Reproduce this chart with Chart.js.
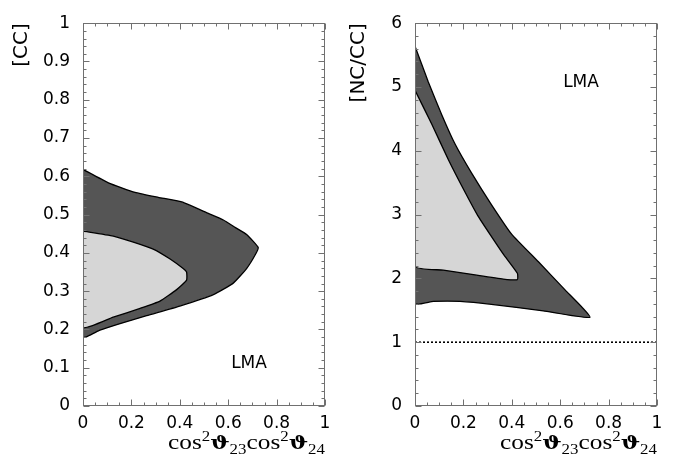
<!DOCTYPE html>
<html>
<head>
<meta charset="utf-8">
<script src="https://cdn.jsdelivr.net/npm/chart.js@4.4.1/dist/chart.umd.min.js"></script>
<style>
  body { margin: 0; background: #fff; }
  #wrap { position: relative; width: 675px; height: 462px; }
  #leftBox { position: absolute; left: 0; top: 0; }
  #rightBox { position: absolute; left: 340px; top: 0; }
</style>
</head>
<body>
<div id="wrap">
  <div id="leftBox"><canvas id="ccChart" width="340" height="462"></canvas></div>
  <div id="rightBox"><canvas id="ncChart" width="335" height="462"></canvas></div>
</div>
<script>
// ==================== DATA ====================
// left panel: [CC] vs cos^2(th23) cos^2(th24)
const ccOuterX = [0, 0.105, 0.215, 0.311, 0.408, 0.518, 0.580, 0.630, 0.676, 0.724, 0.710, 0.676, 0.621, 0.539, 0.400, 0.263, 0.153, 0.070, 0, 0];
const ccOuterY = [0.618, 0.583, 0.558, 0.545, 0.533, 0.503, 0.486, 0.466, 0.448, 0.414, 0.393, 0.359, 0.321, 0.291, 0.261, 0.236, 0.215, 0.198, 0.180, 0.618];
const ccInnerX = [0, 0.125, 0.208, 0.290, 0.360, 0.414, 0.428, 0.428, 0.387, 0.318, 0.236, 0.125, 0, 0];
const ccInnerY = [0.457, 0.444, 0.428, 0.410, 0.384, 0.359, 0.350, 0.329, 0.304, 0.274, 0.255, 0.232, 0.206, 0.457];

// right panel: [NC/CC]
const ncOuterX = [0, 0.055, 0.110, 0.165, 0.234, 0.317, 0.400, 0.510, 0.620, 0.723, 0.530, 0.324, 0.186, 0.076, 0, 0];
const ncOuterY = [5.64, 5.08, 4.57, 4.11, 3.65, 3.15, 2.69, 2.26, 1.82, 1.39, 1.49, 1.59, 1.64, 1.64, 1.61, 5.64];
const ncInnerX = [0, 0.069, 0.138, 0.207, 0.260, 0.310, 0.365, 0.423, 0.423, 0.365, 0.255, 0.117, 0, 0];
const ncInnerY = [4.95, 4.42, 3.86, 3.35, 2.98, 2.69, 2.38, 2.08, 1.98, 1.99, 2.05, 2.13, 2.19, 4.95];

// reference line NC/CC = 1
const refLineX = [0, 1];
const refLineY = [1, 1];

// label "LMA" position (data coords)
const ccLabelPos = [0.686, 0.112];
const ncLabelPos = [0.686, 5.07];

const xTicks = [0, 0.2, 0.4, 0.6, 0.8, 1];

// ==================== HELPERS ====================
const DARK = '#555555';
const LIGHT = '#d6d6d6';

function toPoints(xs, ys) {
    return xs.map((x, i) => ({ x: x, y: ys[i] }));
}

function region(xs, ys, color, order) {
    return {
        data: toPoints(xs, ys),
        showLine: true,
        fill: 'shape',
        backgroundColor: color,
        borderColor: '#000',
        borderWidth: 1.3,
        pointRadius: 0,
        tension: 0.15,
        order: order
    };
}

function fmt(v) {
    return String(Number(v.toFixed(2)));
}

function drawXTitle(ctx, right, baseline, width) {
    const main = '21px "Liberation Serif", serif';
    const small = '14px "Liberation Serif", serif';
    const theta = 'bold 19px "DejaVu Serif", serif';
    const parts = [
        ['cos', main, 0], ['2', small, -8], ['\u03D1', theta, 0], ['23', small, 5],
        ['cos', main, 0], ['2', small, -8], ['\u03D1', theta, 0], ['24', small, 5]
    ];
    let total = 0;
    const widths = parts.map(p => {
        ctx.font = p[1];
        const w = ctx.measureText(p[0]).width;
        total += w;
        return w;
    });
    const sx = width / total;
    ctx.save();
    ctx.translate(right - width, baseline);
    ctx.scale(sx, 1);
    ctx.fillStyle = '#000';
    ctx.textBaseline = 'alphabetic';
    ctx.textAlign = 'left';
    let cx = 0;
    parts.forEach((p, i) => {
        ctx.font = p[1];
        ctx.fillText(p[0], cx, p[2]);
        cx += widths[i];
    });
    ctx.restore();
}

// frame, inward ticks, labels
const framePlugin = {
    id: 'frame',
    afterDraw(chart, args, opts) {
        const { ctx, chartArea: a, scales: { x, y } } = chart;
        const L = Math.round(a.left) + 0.5, R = Math.round(a.right) - 0.5;
        const T = Math.round(a.top) + 0.5, B = Math.round(a.bottom) - 0.5;
        ctx.save();
        ctx.strokeStyle = '#707070';
        ctx.lineWidth = 1;
        ctx.strokeRect(L, T, R - L, B - T);

        ctx.beginPath();
        // x ticks
        const nx = Math.round((x.max - x.min) / opts.xMinor);
        for (let i = 0; i <= nx; i++) {
            const px = Math.round(x.getPixelForValue(x.min + i * opts.xMinor)) + 0.5;
            const len = i % opts.xMajorEvery === 0 ? 6 : 3;
            ctx.moveTo(px, B); ctx.lineTo(px, B - len);
            ctx.moveTo(px, T); ctx.lineTo(px, T + len);
        }
        // y ticks
        const ny = Math.round((y.max - y.min) / opts.yMinor);
        for (let i = 0; i <= ny; i++) {
            const py = Math.round(y.getPixelForValue(y.min + i * opts.yMinor)) + 0.5;
            const len = i % opts.yMajorEvery === 0 ? 6 : 3;
            ctx.moveTo(L, py); ctx.lineTo(L + len, py);
            ctx.moveTo(R, py); ctx.lineTo(R - len, py);
        }
        ctx.stroke();

        // LMA label
        ctx.fillStyle = '#000';
        ctx.font = '17px "DejaVu Sans", sans-serif';
        ctx.textAlign = 'center';
        ctx.textBaseline = 'middle';
        ctx.fillText('LMA', x.getPixelForValue(opts.label[0]), y.getPixelForValue(opts.label[1]));

        drawXTitle(ctx, a.right, 449, 157);
        ctx.restore();
    }
};

function makeOptions(yMax, yStep, yTitle, yTitlePad, yWidth, rightPad, frameOpts) {
    return {
        responsive: false,
        animation: false,
        events: [],
        layout: { padding: { left: 0, right: rightPad, top: 13, bottom: 0 } },
        plugins: {
            legend: { display: false },
            tooltip: { enabled: false },
            frame: frameOpts
        },
        scales: {
            x: {
                type: 'linear',
                min: 0, max: 1,
                afterBuildTicks: s => { s.ticks = xTicks.map(v => ({ value: v })); },
                afterFit: s => { s.height = 56; },
                grid: { display: false, drawTicks: false },
                border: { display: false },
                ticks: {
                    padding: 7,
                    color: '#000',
                    maxRotation: 0,
                    callback: v => fmt(v),
                    font: { family: '"DejaVu Sans", sans-serif', size: 17 }
                }
            },
            y: {
                type: 'linear',
                min: 0, max: yMax,
                afterFit: s => { s.width = yWidth; },
                grid: { display: false, drawTicks: false },
                border: { display: false },
                ticks: {
                    stepSize: yStep,
                    padding: 13,
                    color: '#000',
                    callback: v => fmt(v),
                    font: { family: '"DejaVu Sans", sans-serif', size: 17 }
                },
                title: {
                    display: true,
                    text: yTitle,
                    align: 'end',
                    color: '#000',
                    padding: { top: yTitlePad, bottom: 0 },
                    font: { family: '"DejaVu Sans", sans-serif', size: 20 }
                }
            }
        }
    };
}

// ==================== CHARTS ====================
new Chart(document.getElementById('ccChart'), {
    type: 'scatter',
    data: {
        datasets: [
            region(ccOuterX, ccOuterY, DARK, 2),
            region(ccInnerX, ccInnerY, LIGHT, 1)
        ]
    },
    options: makeOptions(1, 0.1, '[CC]', 10, 83, 15,
        { xMinor: 0.05, xMajorEvery: 4, yMinor: 0.02, yMajorEvery: 5, label: ccLabelPos }),
    plugins: [framePlugin]
});

new Chart(document.getElementById('ncChart'), {
    type: 'scatter',
    data: {
        datasets: [
            region(ncOuterX, ncOuterY, DARK, 3),
            region(ncInnerX, ncInnerY, LIGHT, 2),
            {
                data: toPoints(refLineX, refLineY),
                showLine: true,
                fill: false,
                borderColor: '#000',
                borderWidth: 1.6,
                borderDash: [2, 2],
                pointRadius: 0,
                order: 1
            }
        ]
    },
    options: makeOptions(6, 1, '[NC/CC]', 7, 75, 18,
        { xMinor: 0.05, xMajorEvery: 4, yMinor: 0.2, yMajorEvery: 5, label: ncLabelPos }),
    plugins: [framePlugin]
});
</script>
</body>
</html>
